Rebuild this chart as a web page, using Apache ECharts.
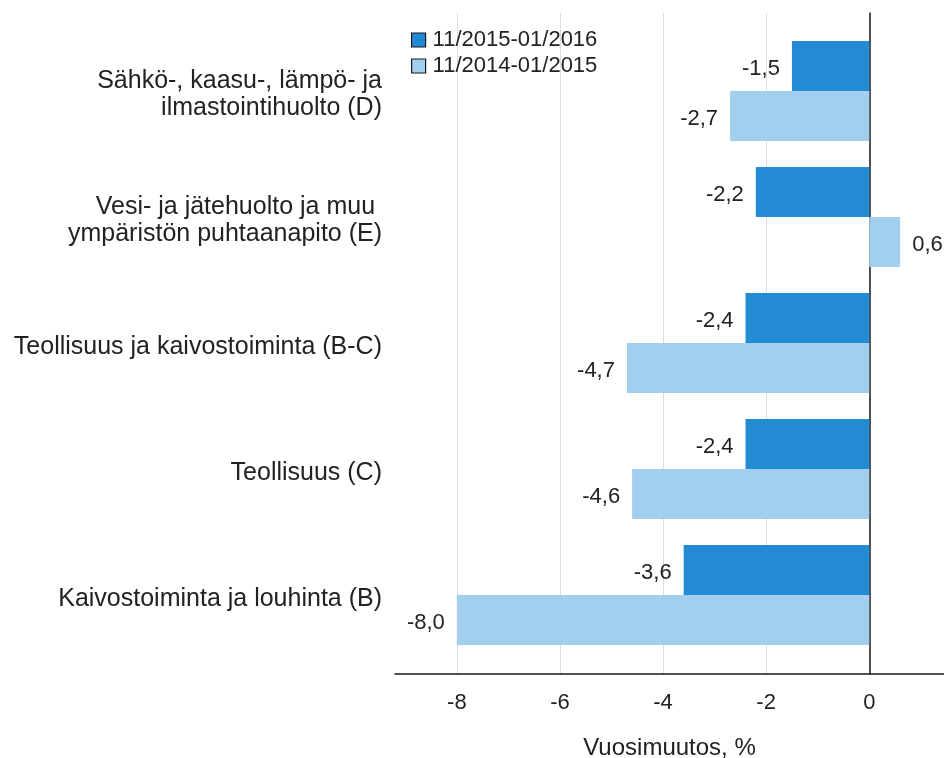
<!DOCTYPE html>
<html>
<head>
<meta charset="UTF-8">
<title>Vuosimuutos</title>
<style type="text/css">
html, body {
	margin: 0;
	padding: 0;
	background: #fff;
}
#main {
	width: 944px;
	height: 758px;
}
</style>
</head>
<body>
	<div id="main"></div>
</body>
<script type="text/javascript" src="https://cdn.jsdelivr.net/npm/echarts@6/dist/echarts.min.js"></script>
<script type="text/javascript">
	// toimialat (ylhäältä alas)
	var categories = [ 'Sähkö-, kaasu-, lämpö- ja\nilmastointihuolto (D)',
			'Vesi- ja jätehuolto ja muu \nympäristön puhtaanapito (E)',
			'Teollisuus ja kaivostoiminta (B-C)', 'Teollisuus (C)',
			'Kaivostoiminta ja louhinta (B)' ];
	var seriesNames = [ '11/2015-01/2016', '11/2014-01/2015' ];
	var data2016 = [ -1.5, -2.2, -2.4, -2.4, -3.6 ];
	var data2015 = [ -2.7, 0.6, -4.7, -4.6, -8.0 ];
	var xTicks = [ -8, -6, -4, -2, 0 ];

	var xMin = -9.2;
	var xMax = 1.45;
	var font = 'Liberation Sans, Arial, sans-serif';
	var textColor = '#222';

	function toItems(arr) {
		return arr.map(function(v) {
			return {
				value : v,
				label : {
					position : v < 0 ? 'left' : 'right'
				}
			};
		});
	}

	function fmt(p) {
		return p.value.toFixed(1).replace('.', ',');
	}

	var chart = echarts.init(document.getElementById('main'));
	var option = {
		animation : false,
		legend : {
			orient : 'vertical',
			left : 406,
			top : 24,
			itemWidth : 14,
			itemHeight : 14,
			itemGap : 4,
			icon : 'rect',
			data : seriesNames,
			itemStyle : {
				borderColor : '#1a1a1a',
				borderWidth : 1.2
			},
			textStyle : {
				fontFamily : font,
				fontSize : 22,
				color : textColor,
				padding : [ 0, 0, 0, 2 ]
			}
		},
		grid : [ {
			left : 395,
			right : 0,
			top : 28,
			bottom : 100,
			outerBoundsMode : 'none'
		}, {
			left : 395,
			right : 0,
			top : 13,
			bottom : 84,
			outerBoundsMode : 'none'
		} ],
		xAxis : [ {
			gridIndex : 0,
			type : 'value',
			min : xMin,
			max : xMax,
			show : false
		}, {
			gridIndex : 1,
			type : 'value',
			min : xMin,
			max : xMax,
			splitNumber : 5,
			axisLine : {
				onZero : false,
				lineStyle : {
					color : '#1a1a1a',
					width : 1.5
				}
			},
			axisTick : {
				show : false
			},
			axisLabel : {
				margin : 18,
				fontFamily : font,
				fontSize : 22,
				color : textColor,
				showMinLabel : false,
				showMaxLabel : false,
				formatter : function(v) {
					return xTicks.indexOf(v) >= 0 ? String(v) : '';
				}
			},
			splitLine : {
				show : true,
				showMinLine : false,
				showMaxLine : false,
				lineStyle : {
					color : '#dcdcdc',
					width : 1
				}
			},
			name : 'Vuosimuutos, %',
			nameLocation : 'middle',
			nameGap : 62,
			nameTextStyle : {
				fontFamily : font,
				fontSize : 24,
				color : textColor
			}
		} ],
		yAxis : [ {
			gridIndex : 0,
			type : 'category',
			inverse : true,
			data : categories,
			axisLine : {
				show : false
			},
			axisTick : {
				show : false
			},
			axisLabel : {
				margin : 13,
				align : 'right',
				formatter : function(v) {
					return v.split('\n').map(function(s) {
						return '{t|' + s + '}';
					}).join('\n');
				},
				rich : {
					t : {
						fontFamily : font,
						fontSize : 25,
						lineHeight : 27,
						padding : [ 8, 0, 0, 0 ],
						color : textColor,
						align : 'right'
					}
				}
			}
		}, {
			gridIndex : 1,
			type : 'value',
			min : 0,
			max : 1,
			axisLine : {
				show : true,
				onZero : true,
				lineStyle : {
					color : '#1a1a1a',
					width : 1.5
				}
			},
			axisTick : {
				show : false
			},
			axisLabel : {
				show : false
			},
			splitLine : {
				show : false
			}
		} ],
		series : [ {
			name : seriesNames[0],
			type : 'bar',
			xAxisIndex : 0,
			yAxisIndex : 0,
			barWidth : 50,
			barGap : '0%',
			itemStyle : {
				color : '#238ad4'
			},
			label : {
				show : true,
				distance : 12,
				offset : [ 0, 3 ],
				fontFamily : font,
				fontSize : 22,
				color : textColor,
				formatter : fmt
			},
			data : toItems(data2016)
		}, {
			name : seriesNames[1],
			type : 'bar',
			xAxisIndex : 0,
			yAxisIndex : 0,
			barWidth : 50,
			barGap : '0%',
			itemStyle : {
				color : '#a3cfee'
			},
			label : {
				show : true,
				distance : 12,
				offset : [ 0, 3 ],
				fontFamily : font,
				fontSize : 22,
				color : textColor,
				formatter : fmt
			},
			data : toItems(data2015)
		} ]
	};
	chart.setOption(option);
</script>
</html>
